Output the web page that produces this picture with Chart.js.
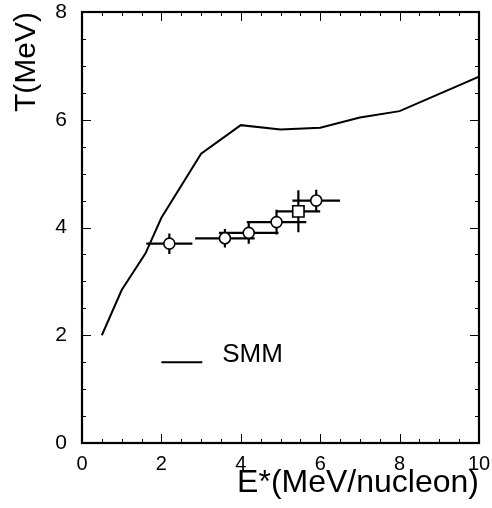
<!DOCTYPE html>
<html>
<head>
<meta charset="utf-8">
<script src="https://cdn.jsdelivr.net/npm/chart.js@4"></script>
<style>
  html, body { margin: 0; padding: 0; background: #fff; }
  #wrap { width: 492px; height: 508px; }
</style>
</head>
<body>
<div id="wrap"><canvas id="chart" width="492" height="508"></canvas></div>
<script>
// SMM model curve
const smmE = [0.5, 1.0, 1.6, 2.0, 3.0, 4.0, 5.0, 6.0, 7.0, 8.0, 10.0];
const smmT = [2.0, 2.84, 3.52, 4.18, 5.37, 5.9, 5.82, 5.85, 6.04, 6.16, 6.8];

// measured points
const dataE = [2.2, 3.6, 4.2, 4.9, 5.45, 5.9];
const dataT = [3.7, 3.8, 3.9, 4.1, 4.3, 4.5];
const errE = [0.58, 0.75, 0.75, 0.75, 0.55, 0.6];
const errT = [0.19, 0.17, 0.2, 0.23, 0.39, 0.2];
const markers = ['circle', 'circle', 'circle', 'circle', 'rect', 'circle'];

const xTicks = [0, 2, 4, 6, 8, 10];
const yTicks = [0, 2, 4, 6, 8];

const FONT = "'Liberation Sans', Arial, sans-serif";

// frame with inward ticks on all sides, error bars and the legend
const framePlugin = {
  id: 'frame',
  beforeDatasetsDraw(chart) {
    const ctx = chart.ctx, xs = chart.scales.x, ys = chart.scales.y;
    ctx.save();
    ctx.strokeStyle = '#000';
    ctx.lineWidth = 2.2;
    dataE.forEach((e, i) => {
      const px = xs.getPixelForValue(e), py = ys.getPixelForValue(dataT[i]);
      ctx.beginPath();
      ctx.moveTo(xs.getPixelForValue(e - errE[i]), py);
      ctx.lineTo(xs.getPixelForValue(e + errE[i]), py);
      ctx.moveTo(px, ys.getPixelForValue(dataT[i] - errT[i]));
      ctx.lineTo(px, ys.getPixelForValue(dataT[i] + errT[i]));
      ctx.stroke();
    });
    ctx.restore();
  },
  afterDraw(chart) {
    const ctx = chart.ctx, a = chart.chartArea;
    const xs = chart.scales.x, ys = chart.scales.y;
    ctx.save();
    ctx.strokeStyle = '#000';
    ctx.lineWidth = 1;
    for (let v = 0; v <= 10.001; v += 0.5) {
      const p = Math.round(xs.getPixelForValue(v)) + 0.5;
      const len = Math.abs(v % 2) < 1e-6 ? 9 : 4;
      ctx.beginPath();
      ctx.moveTo(p, a.bottom); ctx.lineTo(p, a.bottom - len);
      ctx.moveTo(p, a.top); ctx.lineTo(p, a.top + len);
      ctx.stroke();
    }
    for (let v = 0; v <= 8.001; v += 0.5) {
      const p = Math.round(ys.getPixelForValue(v)) + 0.5;
      const len = Math.abs(v % 2) < 1e-6 ? 9 : 4;
      ctx.beginPath();
      ctx.moveTo(a.left, p); ctx.lineTo(a.left + len, p);
      ctx.moveTo(a.right, p); ctx.lineTo(a.right - len, p);
      ctx.stroke();
    }
    ctx.lineWidth = 2.2;
    ctx.strokeRect(a.left, a.top, a.right - a.left, a.bottom - a.top);

    // legend
    const ly = ys.getPixelForValue(1.5);
    ctx.lineWidth = 2;
    ctx.beginPath();
    ctx.moveTo(xs.getPixelForValue(2.0), ly);
    ctx.lineTo(xs.getPixelForValue(3.03), ly);
    ctx.stroke();
    ctx.fillStyle = '#000';
    ctx.font = '26px ' + FONT;
    ctx.textBaseline = 'middle';
    ctx.textAlign = 'left';
    ctx.fillText('SMM', xs.getPixelForValue(3.53), ys.getPixelForValue(1.64));
    ctx.restore();
  }
};

new Chart(document.getElementById('chart'), {
  type: 'scatter',
  data: {
    datasets: [
      {
        type: 'line',
        label: 'SMM',
        data: smmE.map((e, i) => ({ x: e, y: smmT[i] })),
        borderColor: '#000',
        borderWidth: 2,
        pointRadius: 0,
        tension: 0,
        fill: false
      },
      {
        label: 'data',
        data: dataE.map((e, i) => ({ x: e, y: dataT[i] })),
        pointStyle: markers,
        pointRadius: markers.map(m => m === 'rect' ? 8 : 5.5),
        backgroundColor: '#fff',
        borderColor: '#000',
        borderWidth: 1.6
      }
    ]
  },
  options: {
    responsive: false,
    animation: false,
    layout: { padding: { top: 12, right: 13, left: 0, bottom: 0 } },
    plugins: {
      legend: { display: false },
      tooltip: { enabled: false }
    },
    scales: {
      x: {
        type: 'linear',
        min: 0,
        max: 10,
        afterFit: (s) => { s.height = 65; s.paddingLeft = 0; s.paddingRight = 0; },
        afterBuildTicks: (s) => { s.ticks = xTicks.map(v => ({ value: v })); },
        grid: { display: false, drawTicks: false },
        border: { display: false },
        ticks: { color: '#000', font: { family: FONT, size: 20 }, padding: 9, maxRotation: 0 },
        title: {
          display: true,
          text: 'E*(MeV/nucleon)',
          align: 'end',
          color: '#000',
          font: { family: FONT, size: 32 },
          padding: { top: 0, bottom: 6 }
        }
      },
      y: {
        type: 'linear',
        min: 0,
        max: 8,
        afterFit: (s) => { s.width = 82; s.paddingTop = 0; s.paddingBottom = 0; },
        afterBuildTicks: (s) => { s.ticks = yTicks.map(v => ({ value: v })); },
        grid: { display: false, drawTicks: false },
        border: { display: false },
        ticks: { color: '#000', font: { family: FONT, size: 21 }, padding: 15 },
        title: {
          display: true,
          text: 'T(MeV)',
          align: 'end',
          color: '#000',
          font: { family: FONT, size: 30 },
          padding: { top: 9, bottom: 0 }
        }
      }
    }
  },
  plugins: [framePlugin]
});
</script>
</body>
</html>
